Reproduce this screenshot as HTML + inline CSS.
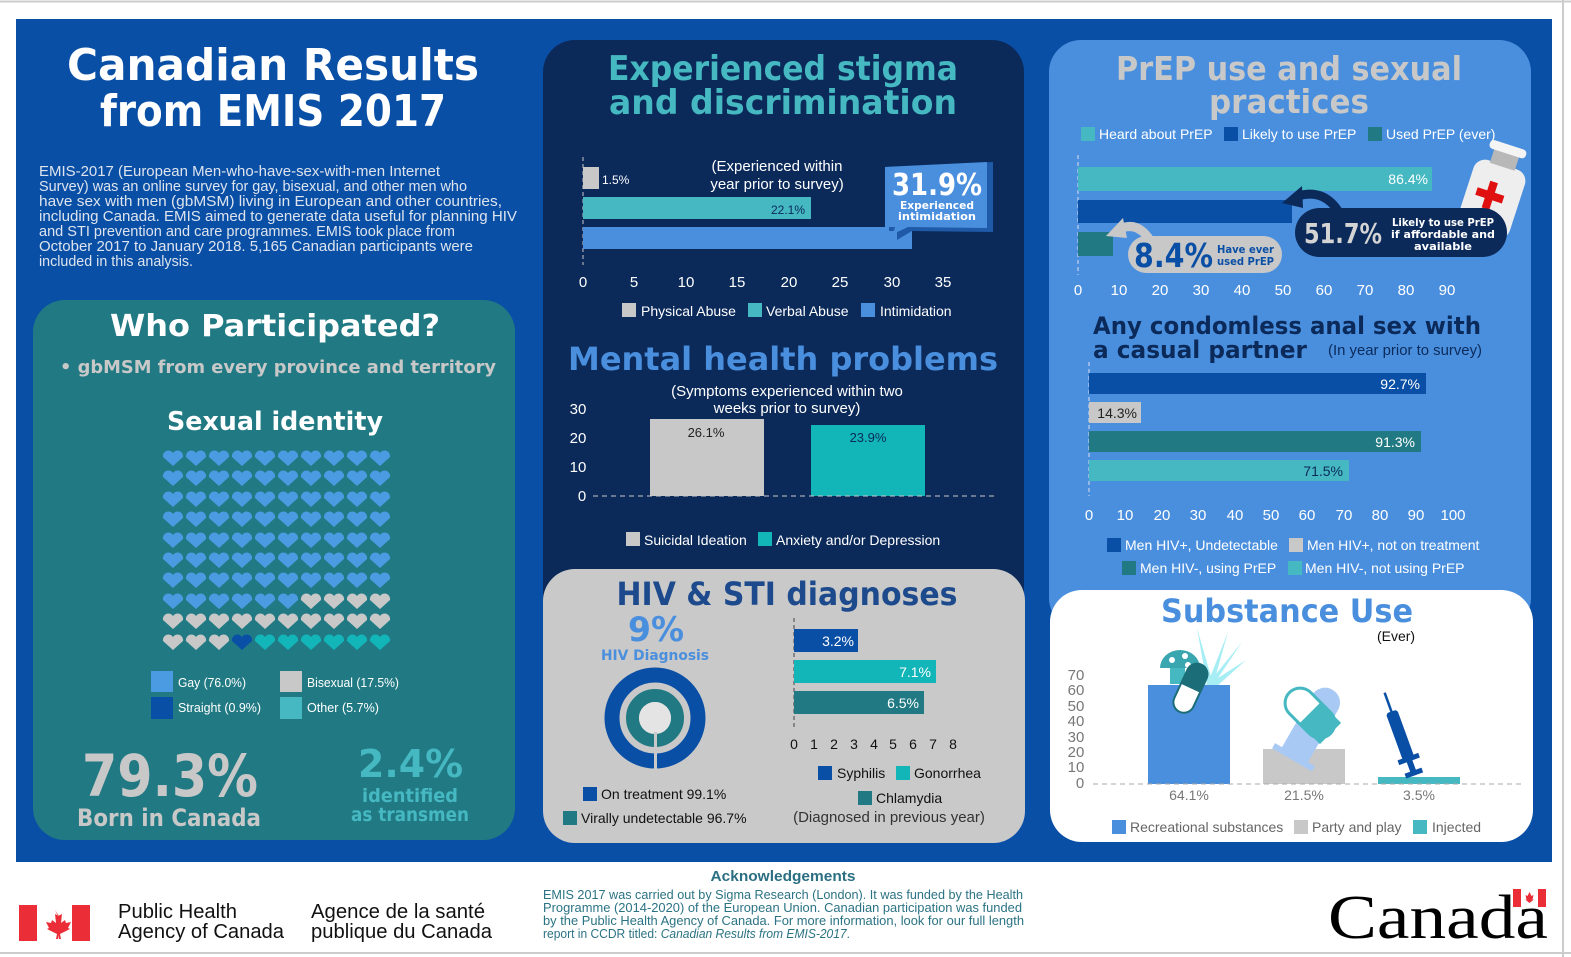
<!DOCTYPE html>
<html><head><meta charset="utf-8"><style>
html,body{margin:0;padding:0;background:#fff;}
svg{display:block;}
.h{font-family:"DejaVu Sans","Liberation Sans",sans-serif;font-weight:bold;}
.s{font-family:"Liberation Sans",sans-serif;}
</style></head><body>
<svg width="1571" height="957" viewBox="0 0 1571 957" xmlns="http://www.w3.org/2000/svg">
<rect width="1571" height="957" fill="#fff"/>
<line x1="0" y1="1.5" x2="1571" y2="1.5" stroke="#ccc" stroke-width="2"/>
<line x1="1563" y1="0" x2="1563" y2="957" stroke="#ccc" stroke-width="2"/>
<line x1="0" y1="953" x2="1571" y2="953" stroke="#ccc" stroke-width="2"/>
<rect x="16" y="19" width="1536" height="843" fill="#0a4fa6"/>

<!-- Title -->
<text class="h" x="273" y="80" font-size="44" fill="#fff" text-anchor="middle" textLength="412" lengthAdjust="spacingAndGlyphs">Canadian Results</text>
<text class="h" x="273" y="126" font-size="44" fill="#fff" text-anchor="middle" textLength="346" lengthAdjust="spacingAndGlyphs">from EMIS 2017</text>
<g class="s" font-size="15" fill="#dde4ee">
<text x="39" y="176" textLength="401" lengthAdjust="spacingAndGlyphs">EMIS-2017 (European Men-who-have-sex-with-men Internet</text>
<text x="39" y="191" textLength="428" lengthAdjust="spacingAndGlyphs">Survey) was an online survey for gay, bisexual, and other men who</text>
<text x="39" y="206" textLength="463" lengthAdjust="spacingAndGlyphs">have sex with men (gbMSM) living in European and other countries,</text>
<text x="39" y="221" textLength="478" lengthAdjust="spacingAndGlyphs">including Canada. EMIS aimed to generate data useful for planning HIV</text>
<text x="39" y="236" textLength="416" lengthAdjust="spacingAndGlyphs">and STI prevention and care programmes. EMIS took place from</text>
<text x="39" y="251" textLength="434" lengthAdjust="spacingAndGlyphs">October 2017 to January 2018.  5,165 Canadian participants were</text>
<text x="39" y="266" textLength="154" lengthAdjust="spacingAndGlyphs">included in this analysis.</text>
</g>

<!-- Who participated -->
<rect x="33" y="300" width="482" height="540" rx="32" fill="#217a83"/>
<text class="h" x="275" y="336" font-size="30" fill="#fff" text-anchor="middle" textLength="330" lengthAdjust="spacingAndGlyphs">Who Participated?</text>
<text class="h" x="60" y="373" font-size="18" fill="#c8c8c8" textLength="436" lengthAdjust="spacingAndGlyphs">•  gbMSM from every province and territory</text>
<text class="h" x="275" y="430" font-size="26" fill="#fff" text-anchor="middle" textLength="216" lengthAdjust="spacingAndGlyphs">Sexual identity</text>
<path fill="#4a9be2" d="
M173 466l-10-9a5.5 5.5 0 0 1 10-4a5.5 5.5 0 0 1 10 4zM196 466l-10-9a5.5 5.5 0 0 1 10-4a5.5 5.5 0 0 1 10 4zM219 466l-10-9a5.5 5.5 0 0 1 10-4a5.5 5.5 0 0 1 10 4zM242 466l-10-9a5.5 5.5 0 0 1 10-4a5.5 5.5 0 0 1 10 4zM265 466l-10-9a5.5 5.5 0 0 1 10-4a5.5 5.5 0 0 1 10 4zM288 466l-10-9a5.5 5.5 0 0 1 10-4a5.5 5.5 0 0 1 10 4zM311 466l-10-9a5.5 5.5 0 0 1 10-4a5.5 5.5 0 0 1 10 4zM334 466l-10-9a5.5 5.5 0 0 1 10-4a5.5 5.5 0 0 1 10 4zM357 466l-10-9a5.5 5.5 0 0 1 10-4a5.5 5.5 0 0 1 10 4zM380 466l-10-9a5.5 5.5 0 0 1 10-4a5.5 5.5 0 0 1 10 4z
M173 486l-10-9a5.5 5.5 0 0 1 10-4a5.5 5.5 0 0 1 10 4zM196 486l-10-9a5.5 5.5 0 0 1 10-4a5.5 5.5 0 0 1 10 4zM219 486l-10-9a5.5 5.5 0 0 1 10-4a5.5 5.5 0 0 1 10 4zM242 486l-10-9a5.5 5.5 0 0 1 10-4a5.5 5.5 0 0 1 10 4zM265 486l-10-9a5.5 5.5 0 0 1 10-4a5.5 5.5 0 0 1 10 4zM288 486l-10-9a5.5 5.5 0 0 1 10-4a5.5 5.5 0 0 1 10 4zM311 486l-10-9a5.5 5.5 0 0 1 10-4a5.5 5.5 0 0 1 10 4zM334 486l-10-9a5.5 5.5 0 0 1 10-4a5.5 5.5 0 0 1 10 4zM357 486l-10-9a5.5 5.5 0 0 1 10-4a5.5 5.5 0 0 1 10 4zM380 486l-10-9a5.5 5.5 0 0 1 10-4a5.5 5.5 0 0 1 10 4z
M173 507l-10-9a5.5 5.5 0 0 1 10-4a5.5 5.5 0 0 1 10 4zM196 507l-10-9a5.5 5.5 0 0 1 10-4a5.5 5.5 0 0 1 10 4zM219 507l-10-9a5.5 5.5 0 0 1 10-4a5.5 5.5 0 0 1 10 4zM242 507l-10-9a5.5 5.5 0 0 1 10-4a5.5 5.5 0 0 1 10 4zM265 507l-10-9a5.5 5.5 0 0 1 10-4a5.5 5.5 0 0 1 10 4zM288 507l-10-9a5.5 5.5 0 0 1 10-4a5.5 5.5 0 0 1 10 4zM311 507l-10-9a5.5 5.5 0 0 1 10-4a5.5 5.5 0 0 1 10 4zM334 507l-10-9a5.5 5.5 0 0 1 10-4a5.5 5.5 0 0 1 10 4zM357 507l-10-9a5.5 5.5 0 0 1 10-4a5.5 5.5 0 0 1 10 4zM380 507l-10-9a5.5 5.5 0 0 1 10-4a5.5 5.5 0 0 1 10 4z
M173 527l-10-9a5.5 5.5 0 0 1 10-4a5.5 5.5 0 0 1 10 4zM196 527l-10-9a5.5 5.5 0 0 1 10-4a5.5 5.5 0 0 1 10 4zM219 527l-10-9a5.5 5.5 0 0 1 10-4a5.5 5.5 0 0 1 10 4zM242 527l-10-9a5.5 5.5 0 0 1 10-4a5.5 5.5 0 0 1 10 4zM265 527l-10-9a5.5 5.5 0 0 1 10-4a5.5 5.5 0 0 1 10 4zM288 527l-10-9a5.5 5.5 0 0 1 10-4a5.5 5.5 0 0 1 10 4zM311 527l-10-9a5.5 5.5 0 0 1 10-4a5.5 5.5 0 0 1 10 4zM334 527l-10-9a5.5 5.5 0 0 1 10-4a5.5 5.5 0 0 1 10 4zM357 527l-10-9a5.5 5.5 0 0 1 10-4a5.5 5.5 0 0 1 10 4zM380 527l-10-9a5.5 5.5 0 0 1 10-4a5.5 5.5 0 0 1 10 4z
M173 548l-10-9a5.5 5.5 0 0 1 10-4a5.5 5.5 0 0 1 10 4zM196 548l-10-9a5.5 5.5 0 0 1 10-4a5.5 5.5 0 0 1 10 4zM219 548l-10-9a5.5 5.5 0 0 1 10-4a5.5 5.5 0 0 1 10 4zM242 548l-10-9a5.5 5.5 0 0 1 10-4a5.5 5.5 0 0 1 10 4zM265 548l-10-9a5.5 5.5 0 0 1 10-4a5.5 5.5 0 0 1 10 4zM288 548l-10-9a5.5 5.5 0 0 1 10-4a5.5 5.5 0 0 1 10 4zM311 548l-10-9a5.5 5.5 0 0 1 10-4a5.5 5.5 0 0 1 10 4zM334 548l-10-9a5.5 5.5 0 0 1 10-4a5.5 5.5 0 0 1 10 4zM357 548l-10-9a5.5 5.5 0 0 1 10-4a5.5 5.5 0 0 1 10 4zM380 548l-10-9a5.5 5.5 0 0 1 10-4a5.5 5.5 0 0 1 10 4z
M173 568l-10-9a5.5 5.5 0 0 1 10-4a5.5 5.5 0 0 1 10 4zM196 568l-10-9a5.5 5.5 0 0 1 10-4a5.5 5.5 0 0 1 10 4zM219 568l-10-9a5.5 5.5 0 0 1 10-4a5.5 5.5 0 0 1 10 4zM242 568l-10-9a5.5 5.5 0 0 1 10-4a5.5 5.5 0 0 1 10 4zM265 568l-10-9a5.5 5.5 0 0 1 10-4a5.5 5.5 0 0 1 10 4zM288 568l-10-9a5.5 5.5 0 0 1 10-4a5.5 5.5 0 0 1 10 4zM311 568l-10-9a5.5 5.5 0 0 1 10-4a5.5 5.5 0 0 1 10 4zM334 568l-10-9a5.5 5.5 0 0 1 10-4a5.5 5.5 0 0 1 10 4zM357 568l-10-9a5.5 5.5 0 0 1 10-4a5.5 5.5 0 0 1 10 4zM380 568l-10-9a5.5 5.5 0 0 1 10-4a5.5 5.5 0 0 1 10 4z
M173 588l-10-9a5.5 5.5 0 0 1 10-4a5.5 5.5 0 0 1 10 4zM196 588l-10-9a5.5 5.5 0 0 1 10-4a5.5 5.5 0 0 1 10 4zM219 588l-10-9a5.5 5.5 0 0 1 10-4a5.5 5.5 0 0 1 10 4zM242 588l-10-9a5.5 5.5 0 0 1 10-4a5.5 5.5 0 0 1 10 4zM265 588l-10-9a5.5 5.5 0 0 1 10-4a5.5 5.5 0 0 1 10 4zM288 588l-10-9a5.5 5.5 0 0 1 10-4a5.5 5.5 0 0 1 10 4zM311 588l-10-9a5.5 5.5 0 0 1 10-4a5.5 5.5 0 0 1 10 4zM334 588l-10-9a5.5 5.5 0 0 1 10-4a5.5 5.5 0 0 1 10 4zM357 588l-10-9a5.5 5.5 0 0 1 10-4a5.5 5.5 0 0 1 10 4zM380 588l-10-9a5.5 5.5 0 0 1 10-4a5.5 5.5 0 0 1 10 4z
M173 609l-10-9a5.5 5.5 0 0 1 10-4a5.5 5.5 0 0 1 10 4zM196 609l-10-9a5.5 5.5 0 0 1 10-4a5.5 5.5 0 0 1 10 4zM219 609l-10-9a5.5 5.5 0 0 1 10-4a5.5 5.5 0 0 1 10 4zM242 609l-10-9a5.5 5.5 0 0 1 10-4a5.5 5.5 0 0 1 10 4zM265 609l-10-9a5.5 5.5 0 0 1 10-4a5.5 5.5 0 0 1 10 4zM288 609l-10-9a5.5 5.5 0 0 1 10-4a5.5 5.5 0 0 1 10 4z"/>
<path fill="#c8c8c8" d="
M311 609l-10-9a5.5 5.5 0 0 1 10-4a5.5 5.5 0 0 1 10 4zM334 609l-10-9a5.5 5.5 0 0 1 10-4a5.5 5.5 0 0 1 10 4zM357 609l-10-9a5.5 5.5 0 0 1 10-4a5.5 5.5 0 0 1 10 4zM380 609l-10-9a5.5 5.5 0 0 1 10-4a5.5 5.5 0 0 1 10 4z
M173 629l-10-9a5.5 5.5 0 0 1 10-4a5.5 5.5 0 0 1 10 4zM196 629l-10-9a5.5 5.5 0 0 1 10-4a5.5 5.5 0 0 1 10 4zM219 629l-10-9a5.5 5.5 0 0 1 10-4a5.5 5.5 0 0 1 10 4zM242 629l-10-9a5.5 5.5 0 0 1 10-4a5.5 5.5 0 0 1 10 4zM265 629l-10-9a5.5 5.5 0 0 1 10-4a5.5 5.5 0 0 1 10 4zM288 629l-10-9a5.5 5.5 0 0 1 10-4a5.5 5.5 0 0 1 10 4zM311 629l-10-9a5.5 5.5 0 0 1 10-4a5.5 5.5 0 0 1 10 4zM334 629l-10-9a5.5 5.5 0 0 1 10-4a5.5 5.5 0 0 1 10 4zM357 629l-10-9a5.5 5.5 0 0 1 10-4a5.5 5.5 0 0 1 10 4zM380 629l-10-9a5.5 5.5 0 0 1 10-4a5.5 5.5 0 0 1 10 4z
M173 650l-10-9a5.5 5.5 0 0 1 10-4a5.5 5.5 0 0 1 10 4zM196 650l-10-9a5.5 5.5 0 0 1 10-4a5.5 5.5 0 0 1 10 4zM219 650l-10-9a5.5 5.5 0 0 1 10-4a5.5 5.5 0 0 1 10 4z"/>
<path fill="#0a4fa6" d="M242 650l-10-9a5.5 5.5 0 0 1 10-4a5.5 5.5 0 0 1 10 4z"/>
<path fill="#12b5b8" d="M265 650l-10-9a5.5 5.5 0 0 1 10-4a5.5 5.5 0 0 1 10 4zM288 650l-10-9a5.5 5.5 0 0 1 10-4a5.5 5.5 0 0 1 10 4zM311 650l-10-9a5.5 5.5 0 0 1 10-4a5.5 5.5 0 0 1 10 4zM334 650l-10-9a5.5 5.5 0 0 1 10-4a5.5 5.5 0 0 1 10 4zM357 650l-10-9a5.5 5.5 0 0 1 10-4a5.5 5.5 0 0 1 10 4zM380 650l-10-9a5.5 5.5 0 0 1 10-4a5.5 5.5 0 0 1 10 4z"/>
<rect x="151" y="671" width="22" height="21" fill="#4a9be2"/>
<rect x="280" y="671" width="22" height="21" fill="#c8c8c8"/>
<rect x="151" y="697" width="22" height="22" fill="#0a4fa6"/>
<rect x="280" y="697" width="22" height="22" fill="#45b8c2"/>
<g class="s" font-size="13" fill="#fff">
<text x="178" y="687" textLength="68" lengthAdjust="spacingAndGlyphs">Gay (76.0%)</text>
<text x="307" y="687" textLength="92" lengthAdjust="spacingAndGlyphs">Bisexual (17.5%)</text>
<text x="178" y="712" textLength="83" lengthAdjust="spacingAndGlyphs">Straight (0.9%)</text>
<text x="307" y="712" textLength="72" lengthAdjust="spacingAndGlyphs">Other (5.7%)</text>
</g>
<text class="h" x="82" y="796" font-size="58" fill="#c8c8c8" textLength="176" lengthAdjust="spacingAndGlyphs">79.3%</text>
<text class="h" x="77" y="826" font-size="24" fill="#c8c8c8" textLength="184" lengthAdjust="spacingAndGlyphs">Born in Canada</text>
<text class="h" x="358" y="777" font-size="38" fill="#45b8c2" textLength="105" lengthAdjust="spacingAndGlyphs">2.4%</text>
<text class="h" x="410" y="802" font-size="19" fill="#45b8c2" text-anchor="middle" textLength="96" lengthAdjust="spacingAndGlyphs">identified</text>
<text class="h" x="410" y="821" font-size="19" fill="#45b8c2" text-anchor="middle" textLength="118" lengthAdjust="spacingAndGlyphs">as transmen</text>

<!-- Middle dark panel -->
<rect x="543" y="40" width="481" height="590" rx="32" fill="#0b2a5a"/>
<text class="h" x="783" y="80" font-size="34" fill="#45b8c2" text-anchor="middle" textLength="350" lengthAdjust="spacingAndGlyphs">Experienced stigma</text>
<text class="h" x="783" y="114" font-size="34" fill="#45b8c2" text-anchor="middle" textLength="348" lengthAdjust="spacingAndGlyphs">and discrimination</text>
<line x1="583" y1="157" x2="583" y2="265" stroke="#c8c8c8" stroke-dasharray="4,3"/>
<rect x="583" y="167" width="16" height="22" fill="#c8c8c8"/>
<rect x="583" y="197" width="228" height="22" fill="#45b8c2"/>
<rect x="583" y="227" width="329" height="22" fill="#4a8fde"/>
<text class="s" x="602" y="184" font-size="12" fill="#fff">1.5%</text>
<text class="s" x="805" y="214" font-size="12" fill="#0b2a5a" text-anchor="end">22.1%</text>
<text class="s" x="777" y="171" font-size="15" fill="#fff" text-anchor="middle">(Experienced within</text>
<text class="s" x="777" y="189" font-size="15" fill="#fff" text-anchor="middle">year prior to survey)</text>
<polygon points="889,167 993,162 993,232 912,231 897,240 897,231 889,231" fill="#1f5aa8"/>
<polygon points="885,167 987,162 987,228 908,227 893,234 895,227 885,227" fill="#4a8fde"/>
<text class="h" x="937" y="195" font-size="30" fill="#fff" text-anchor="middle" textLength="90" lengthAdjust="spacingAndGlyphs">31.9%</text>
<text class="h" x="937" y="209" font-size="11" fill="#fff" text-anchor="middle" textLength="74" lengthAdjust="spacingAndGlyphs">Experienced</text>
<text class="h" x="937" y="220" font-size="11" fill="#fff" text-anchor="middle" textLength="78" lengthAdjust="spacingAndGlyphs">intimidation</text>
<g class="s" font-size="15" fill="#fff" text-anchor="middle">
<text x="583" y="287">0</text><text x="634" y="287">5</text><text x="686" y="287">10</text><text x="737" y="287">15</text><text x="789" y="287">20</text><text x="840" y="287">25</text><text x="892" y="287">30</text><text x="943" y="287">35</text>
</g>
<rect x="622" y="303" width="14" height="14" fill="#c8c8c8"/>
<rect x="748" y="303" width="14" height="14" fill="#45b8c2"/>
<rect x="861" y="303" width="14" height="14" fill="#4a8fde"/>
<g class="s" font-size="14" fill="#fff">
<text x="641" y="316">Physical Abuse</text><text x="766" y="316">Verbal Abuse</text><text x="880" y="316">Intimidation</text>
</g>
<text class="h" x="783" y="370" font-size="32" fill="#4a8fde" text-anchor="middle" textLength="430" lengthAdjust="spacingAndGlyphs">Mental health problems</text>
<text class="s" x="787" y="396" font-size="15" fill="#fff" text-anchor="middle">(Symptoms experienced within two</text>
<text class="s" x="787" y="413" font-size="15" fill="#fff" text-anchor="middle">weeks prior to survey)</text>
<g class="s" font-size="15" fill="#fff" text-anchor="middle">
<text x="578" y="414">30</text><text x="578" y="443">20</text><text x="578" y="472">10</text><text x="582" y="501">0</text>
</g>
<rect x="650" y="419" width="114" height="77" fill="#c8c8c8"/>
<rect x="811" y="425" width="114" height="71" fill="#12b5b8"/>
<line x1="593" y1="496" x2="997" y2="496" stroke="#c8c8c8" stroke-dasharray="5,4"/>
<text class="s" x="706" y="437" font-size="13" fill="#222" text-anchor="middle">26.1%</text>
<text class="s" x="868" y="442" font-size="13" fill="#0b2a5a" text-anchor="middle">23.9%</text>
<rect x="626" y="532" width="14" height="14" fill="#c8c8c8"/>
<rect x="758" y="532" width="14" height="14" fill="#12b5b8"/>
<g class="s" font-size="14" fill="#fff"><text x="644" y="545">Suicidal Ideation</text><text x="776" y="545">Anxiety and/or Depression</text></g>

<!-- HIV & STI -->
<rect x="543" y="569" width="482" height="274" rx="32" fill="#c9c9c9"/>
<text class="h" x="787" y="605" font-size="32" fill="#1d4a8c" text-anchor="middle" textLength="341" lengthAdjust="spacingAndGlyphs">HIV &amp; STI diagnoses</text>
<text class="h" x="656" y="641" font-size="34" fill="#4a8fde" text-anchor="middle" textLength="56" lengthAdjust="spacingAndGlyphs">9%</text>
<text class="h" x="655" y="660" font-size="14" fill="#4a8fde" text-anchor="middle" textLength="108" lengthAdjust="spacingAndGlyphs">HIV Diagnosis</text>
<circle cx="655" cy="718" r="43" fill="none" stroke="#0a4fa6" stroke-width="15"/>
<circle cx="655" cy="718" r="22.5" fill="none" stroke="#217a83" stroke-width="13"/>
<circle cx="655" cy="718" r="16" fill="#e4e4e4"/>
<rect x="654" y="732" width="3" height="38" fill="#c9c9c9"/>
<rect x="583" y="787" width="14" height="14" fill="#0a4fa6"/>
<rect x="563" y="811" width="14" height="14" fill="#217a83"/>
<g class="s" font-size="14" fill="#111"><text x="601" y="799">On treatment 99.1%</text><text x="581" y="823">Virally undetectable 96.7%</text></g>
<line x1="794" y1="618" x2="794" y2="730" stroke="#444" stroke-dasharray="4,3"/>
<rect x="794" y="629" width="64" height="23" fill="#0a4fa6"/>
<rect x="794" y="660" width="142" height="23" fill="#12b5b8"/>
<rect x="794" y="691" width="130" height="23" fill="#217a83"/>
<g class="s" font-size="14" fill="#fff" text-anchor="end"><text x="854" y="646">3.2%</text><text x="931" y="677">7.1%</text><text x="919" y="708">6.5%</text></g>
<g class="s" font-size="14" fill="#111" text-anchor="middle">
<text x="794" y="749">0</text><text x="814" y="749">1</text><text x="834" y="749">2</text><text x="854" y="749">3</text><text x="874" y="749">4</text><text x="893" y="749">5</text><text x="913" y="749">6</text><text x="933" y="749">7</text><text x="953" y="749">8</text>
</g>
<rect x="818" y="766" width="14" height="14" fill="#0a4fa6"/>
<rect x="896" y="766" width="14" height="14" fill="#12b5b8"/>
<rect x="858" y="791" width="14" height="14" fill="#217a83"/>
<g class="s" font-size="14" fill="#111"><text x="837" y="778">Syphilis</text><text x="914" y="778">Gonorrhea</text><text x="876" y="803">Chlamydia</text></g>
<text class="s" x="889" y="822" font-size="15" fill="#333" text-anchor="middle">(Diagnosed in previous year)</text>

<!-- Right PrEP panel -->
<rect x="1049" y="40" width="482" height="590" rx="32" fill="#4a8fde"/>
<text class="h" x="1289" y="80" font-size="33" fill="#c8c8c8" text-anchor="middle" textLength="346" lengthAdjust="spacingAndGlyphs">PrEP use and sexual</text>
<text class="h" x="1289" y="113" font-size="33" fill="#c8c8c8" text-anchor="middle" textLength="160" lengthAdjust="spacingAndGlyphs">practices</text>
<rect x="1081" y="127" width="14" height="14" fill="#45b8c2"/>
<rect x="1224" y="127" width="14" height="14" fill="#0a4fa6"/>
<rect x="1368" y="127" width="14" height="14" fill="#217a83"/>
<g class="s" font-size="14" fill="#fff"><text x="1099" y="139">Heard about PrEP</text><text x="1242" y="139">Likely to use PrEP</text><text x="1386" y="139">Used PrEP (ever)</text></g>
<line x1="1078" y1="155" x2="1078" y2="275" stroke="#dde" stroke-dasharray="4,3"/>
<rect x="1078" y="167" width="354" height="24" fill="#45b8c2"/>
<rect x="1078" y="200" width="214" height="23" fill="#0a4fa6"/>
<rect x="1078" y="232" width="35" height="24" fill="#217a83"/>
<text class="s" x="1428" y="184" font-size="14" fill="#fff" text-anchor="end">86.4%</text>
<g class="s" font-size="15" fill="#fff" text-anchor="middle">
<text x="1078" y="295">0</text><text x="1119" y="295">10</text><text x="1160" y="295">20</text><text x="1201" y="295">30</text><text x="1242" y="295">40</text><text x="1283" y="295">50</text><text x="1324" y="295">60</text><text x="1365" y="295">70</text><text x="1406" y="295">80</text><text x="1447" y="295">90</text>
</g>
<!-- bottle -->
<g transform="rotate(18 1492 195)">
<rect x="1466" y="163" width="54" height="72" rx="12" fill="#eeeeee"/>
<rect x="1480" y="150" width="26" height="15" fill="#b8b8b8"/>
<rect x="1474" y="142" width="38" height="9" rx="4" fill="#f4f4f4"/>
<rect x="1486" y="182" width="8" height="28" fill="#e01010"/>
<rect x="1476" y="192" width="28" height="8" fill="#e01010"/>
</g>
<!-- arrows -->
<path d="M1340,214 Q1325,188 1298,196" fill="none" stroke="#0b2a5a" stroke-width="9"/>
<polygon points="1282,203 1302,186 1303,208" fill="#0b2a5a"/>
<path d="M1150,240 Q1138,222 1122,228" fill="none" stroke="#c8c8c8" stroke-width="9"/>
<polygon points="1106,236 1123,218 1127,238" fill="#c8c8c8"/>
<rect x="1295" y="208" width="212" height="49" rx="24.5" fill="#0b2a5a"/>
<text class="h" x="1304" y="243" font-size="28" fill="#d4d4d4" textLength="78" lengthAdjust="spacingAndGlyphs">51.7%</text>
<g class="h" font-size="11" fill="#fff" text-anchor="middle">
<text x="1443" y="226" textLength="102" lengthAdjust="spacingAndGlyphs">Likely to use PrEP</text>
<text x="1443" y="238" textLength="104" lengthAdjust="spacingAndGlyphs">if affordable and</text>
<text x="1443" y="250" textLength="58" lengthAdjust="spacingAndGlyphs">available</text>
</g>
<rect x="1128" y="236" width="154" height="37" rx="18.5" fill="#c8c8c8"/>
<text class="h" x="1134" y="267" font-size="33" fill="#0a4fa6" textLength="79" lengthAdjust="spacingAndGlyphs">8.4%</text>
<text class="h" x="1217" y="253" font-size="11" fill="#0a4fa6" textLength="57" lengthAdjust="spacingAndGlyphs">Have ever</text>
<text class="h" x="1217" y="265" font-size="11" fill="#0a4fa6" textLength="57" lengthAdjust="spacingAndGlyphs">used PrEP</text>

<!-- Condomless -->
<text class="h" x="1093" y="334" font-size="24" fill="#0b2a5a" textLength="388" lengthAdjust="spacingAndGlyphs">Any condomless anal sex with</text>
<text class="h" x="1093" y="358" font-size="24" fill="#0b2a5a" textLength="214" lengthAdjust="spacingAndGlyphs">a casual partner</text>
<text class="s" x="1328" y="355" font-size="15" fill="#0b2a5a" textLength="154" lengthAdjust="spacingAndGlyphs">(In year prior to survey)</text>
<line x1="1089" y1="362" x2="1089" y2="496" stroke="#dde" stroke-dasharray="4,3"/>
<rect x="1089" y="373" width="337" height="21" fill="#0a4fa6"/>
<rect x="1089" y="402" width="52" height="21" fill="#c8c8c8"/>
<rect x="1089" y="431" width="332" height="21" fill="#217a83"/>
<rect x="1089" y="460" width="260" height="21" fill="#45b8c2"/>
<g class="s" font-size="14" text-anchor="end">
<text x="1420" y="389" fill="#fff">92.7%</text><text x="1137" y="418" fill="#222">14.3%</text><text x="1415" y="447" fill="#fff">91.3%</text><text x="1343" y="476" fill="#0b2a5a">71.5%</text>
</g>
<g class="s" font-size="15" fill="#fff" text-anchor="middle">
<text x="1089" y="520">0</text><text x="1125" y="520">10</text><text x="1162" y="520">20</text><text x="1198" y="520">30</text><text x="1235" y="520">40</text><text x="1271" y="520">50</text><text x="1307" y="520">60</text><text x="1344" y="520">70</text><text x="1380" y="520">80</text><text x="1416" y="520">90</text><text x="1453" y="520">100</text>
</g>
<rect x="1107" y="538" width="14" height="14" fill="#0a4fa6"/>
<rect x="1289" y="538" width="14" height="14" fill="#c8c8c8"/>
<rect x="1122" y="561" width="14" height="14" fill="#217a83"/>
<rect x="1288" y="561" width="14" height="14" fill="#45b8c2"/>
<g class="s" font-size="14" fill="#fff">
<text x="1125" y="550">Men HIV+, Undetectable</text><text x="1307" y="550">Men HIV+, not on treatment</text>
<text x="1140" y="573">Men HIV-, using PrEP</text><text x="1305" y="573">Men HIV-, not using PrEP</text>
</g>

<!-- Substance use -->
<rect x="1050" y="590" width="483" height="252" rx="32" fill="#fff"/>
<text class="h" x="1287" y="622" font-size="32" fill="#4a8fde" text-anchor="middle" textLength="252" lengthAdjust="spacingAndGlyphs">Substance Use</text>
<text class="s" x="1396" y="641" font-size="14" fill="#111" text-anchor="middle">(Ever)</text>
<g class="s" font-size="15" fill="#777" text-anchor="middle">
<text x="1076" y="680">70</text><text x="1076" y="695">60</text><text x="1076" y="711">50</text><text x="1076" y="726">40</text><text x="1076" y="742">30</text><text x="1076" y="757">20</text><text x="1076" y="772">10</text><text x="1080" y="788">0</text>
</g>
<!-- leaf -->
<g fill="#a6eef4">
<polygon points="1207,685 1197,628 1212,680"/>
<polygon points="1207,685 1242,642 1214,684"/>
<polygon points="1207,685 1246,660 1215,688"/>
<polygon points="1207,685 1228,632 1214,682"/>
<polygon points="1207,685 1180,650 1203,684"/>
</g>
<rect x="1148" y="685" width="82" height="99" fill="#4a8fde"/>
<rect x="1170" y="662" width="15" height="22" fill="#45b8c2"/>
<path d="M1160,668 a20,18 0 0 1 40,0 z" fill="#3aa6b0"/>
<circle cx="1172" cy="660" r="3" fill="#fff"/><circle cx="1185" cy="656" r="3" fill="#fff"/><circle cx="1188" cy="665" r="3" fill="#fff"/>
<g transform="rotate(25 1190 688)">
<rect x="1180" y="662" width="21" height="52" rx="10.5" fill="#fff" stroke="#1b6e78" stroke-width="2"/>
<path d="M1180,688 v-15.5 a10.5,10.5 0 0 1 21,0 v15.5 z" fill="#1b6e78"/>
</g>
<rect x="1263" y="749" width="82" height="35" fill="#c8c8c8"/>
<g transform="rotate(30 1315 720)">
<path d="M1300,760 v-60 a15,15 0 0 1 30,0 v60 h8 v6 h-46 v-6 z" fill="#a9c9f5"/>
</g>
<g transform="rotate(-45 1310 713)">
<rect x="1295" y="684" width="30" height="58" rx="15" fill="#fff" stroke="#45b8c2" stroke-width="3"/>
<path d="M1295,713 v29 h30 v-29 z" fill="#45b8c2"/>
<rect x="1295" y="713" width="30" height="14" fill="#45b8c2"/><rect x="1298" y="726" width="24" height="16" rx="8" fill="#45b8c2"/>
</g>
<rect x="1378" y="777" width="82" height="7" fill="#45b8c2"/>
<g transform="rotate(-20 1400 735)">
<line x1="1400" y1="690" x2="1400" y2="712" stroke="#0a4fa6" stroke-width="2.5"/>
<rect x="1394" y="710" width="12" height="50" rx="3" fill="#0a4fa6"/>
<rect x="1389" y="758" width="22" height="5" fill="#0a4fa6"/>
<rect x="1397" y="762" width="6" height="12" fill="#0a4fa6"/>
<rect x="1391" y="773" width="18" height="5" fill="#0a4fa6"/>
</g>
<line x1="1093" y1="784" x2="1525" y2="784" stroke="#aaa" stroke-dasharray="5,4"/>
<g class="s" font-size="14" fill="#777" text-anchor="middle"><text x="1189" y="800">64.1%</text><text x="1304" y="800">21.5%</text><text x="1419" y="800">3.5%</text></g>
<rect x="1112" y="820" width="14" height="14" fill="#4a8fde"/>
<rect x="1294" y="820" width="14" height="14" fill="#c8c8c8"/>
<rect x="1413" y="820" width="14" height="14" fill="#45b8c2"/>
<g class="s" font-size="14" fill="#666"><text x="1130" y="832">Recreational substances</text><text x="1312" y="832">Party and play</text><text x="1432" y="832">Injected</text></g>

<!-- Footer -->
<rect x="19" y="905" width="18" height="36" fill="#eb2d37"/>
<rect x="72" y="905" width="18" height="36" fill="#eb2d37"/>
<path d="M55,910 l3,6 4,-2 -1,9 4,-3 1,3 5,-1 -3,6 2,1 -10,5 1,5 h-2 l-0.5,-4 -0.5,4 h-2 l1,-5 -10,-5 2,-1 -3,-6 5,1 1,-3 4,3 -1,-9 4,2z" fill="#eb2d37"/>
<g class="s" font-size="20" fill="#111">
<text x="118" y="918" textLength="119" lengthAdjust="spacingAndGlyphs">Public Health</text>
<text x="118" y="938" textLength="166" lengthAdjust="spacingAndGlyphs">Agency of Canada</text>
<text x="311" y="918" textLength="174" lengthAdjust="spacingAndGlyphs">Agence de la santé</text>
<text x="311" y="938" textLength="181" lengthAdjust="spacingAndGlyphs">publique du Canada</text>
</g>
<text class="s" x="783" y="881" font-size="15" font-weight="bold" fill="#2b6f82" text-anchor="middle" textLength="145" lengthAdjust="spacingAndGlyphs">Acknowledgements</text>
<g class="s" font-size="12.5" fill="#2b7384">
<text x="543" y="899" textLength="480" lengthAdjust="spacingAndGlyphs">EMIS 2017 was carried out by Sigma Research (London). It was funded by the Health</text>
<text x="543" y="912" textLength="479" lengthAdjust="spacingAndGlyphs">Programme (2014-2020) of the European Union. Canadian participation was funded</text>
<text x="543" y="925" textLength="481" lengthAdjust="spacingAndGlyphs">by the Public Health Agency of Canada. For more information, look for our full length</text>
<text x="543" y="938" textLength="307" lengthAdjust="spacingAndGlyphs">report in CCDR titled: <tspan font-style="italic">Canadian Results from EMIS-2017</tspan>.</text>
</g>
<text x="1328" y="938" font-family="Liberation Serif, serif" font-size="62" fill="#000" textLength="220" lengthAdjust="spacingAndGlyphs">Canada</text>
<rect x="1513" y="889" width="33" height="18" fill="#fff"/>
<rect x="1513" y="889" width="8" height="18" fill="#eb2d37"/>
<rect x="1538" y="889" width="8" height="18" fill="#eb2d37"/>
<path d="M1529.5,892 l2,4 2,-1 -1,5 2,-1 -5,4 -5,-4 2,1 -1,-5 2,1z" fill="#eb2d37"/>
</svg>
</body></html>
